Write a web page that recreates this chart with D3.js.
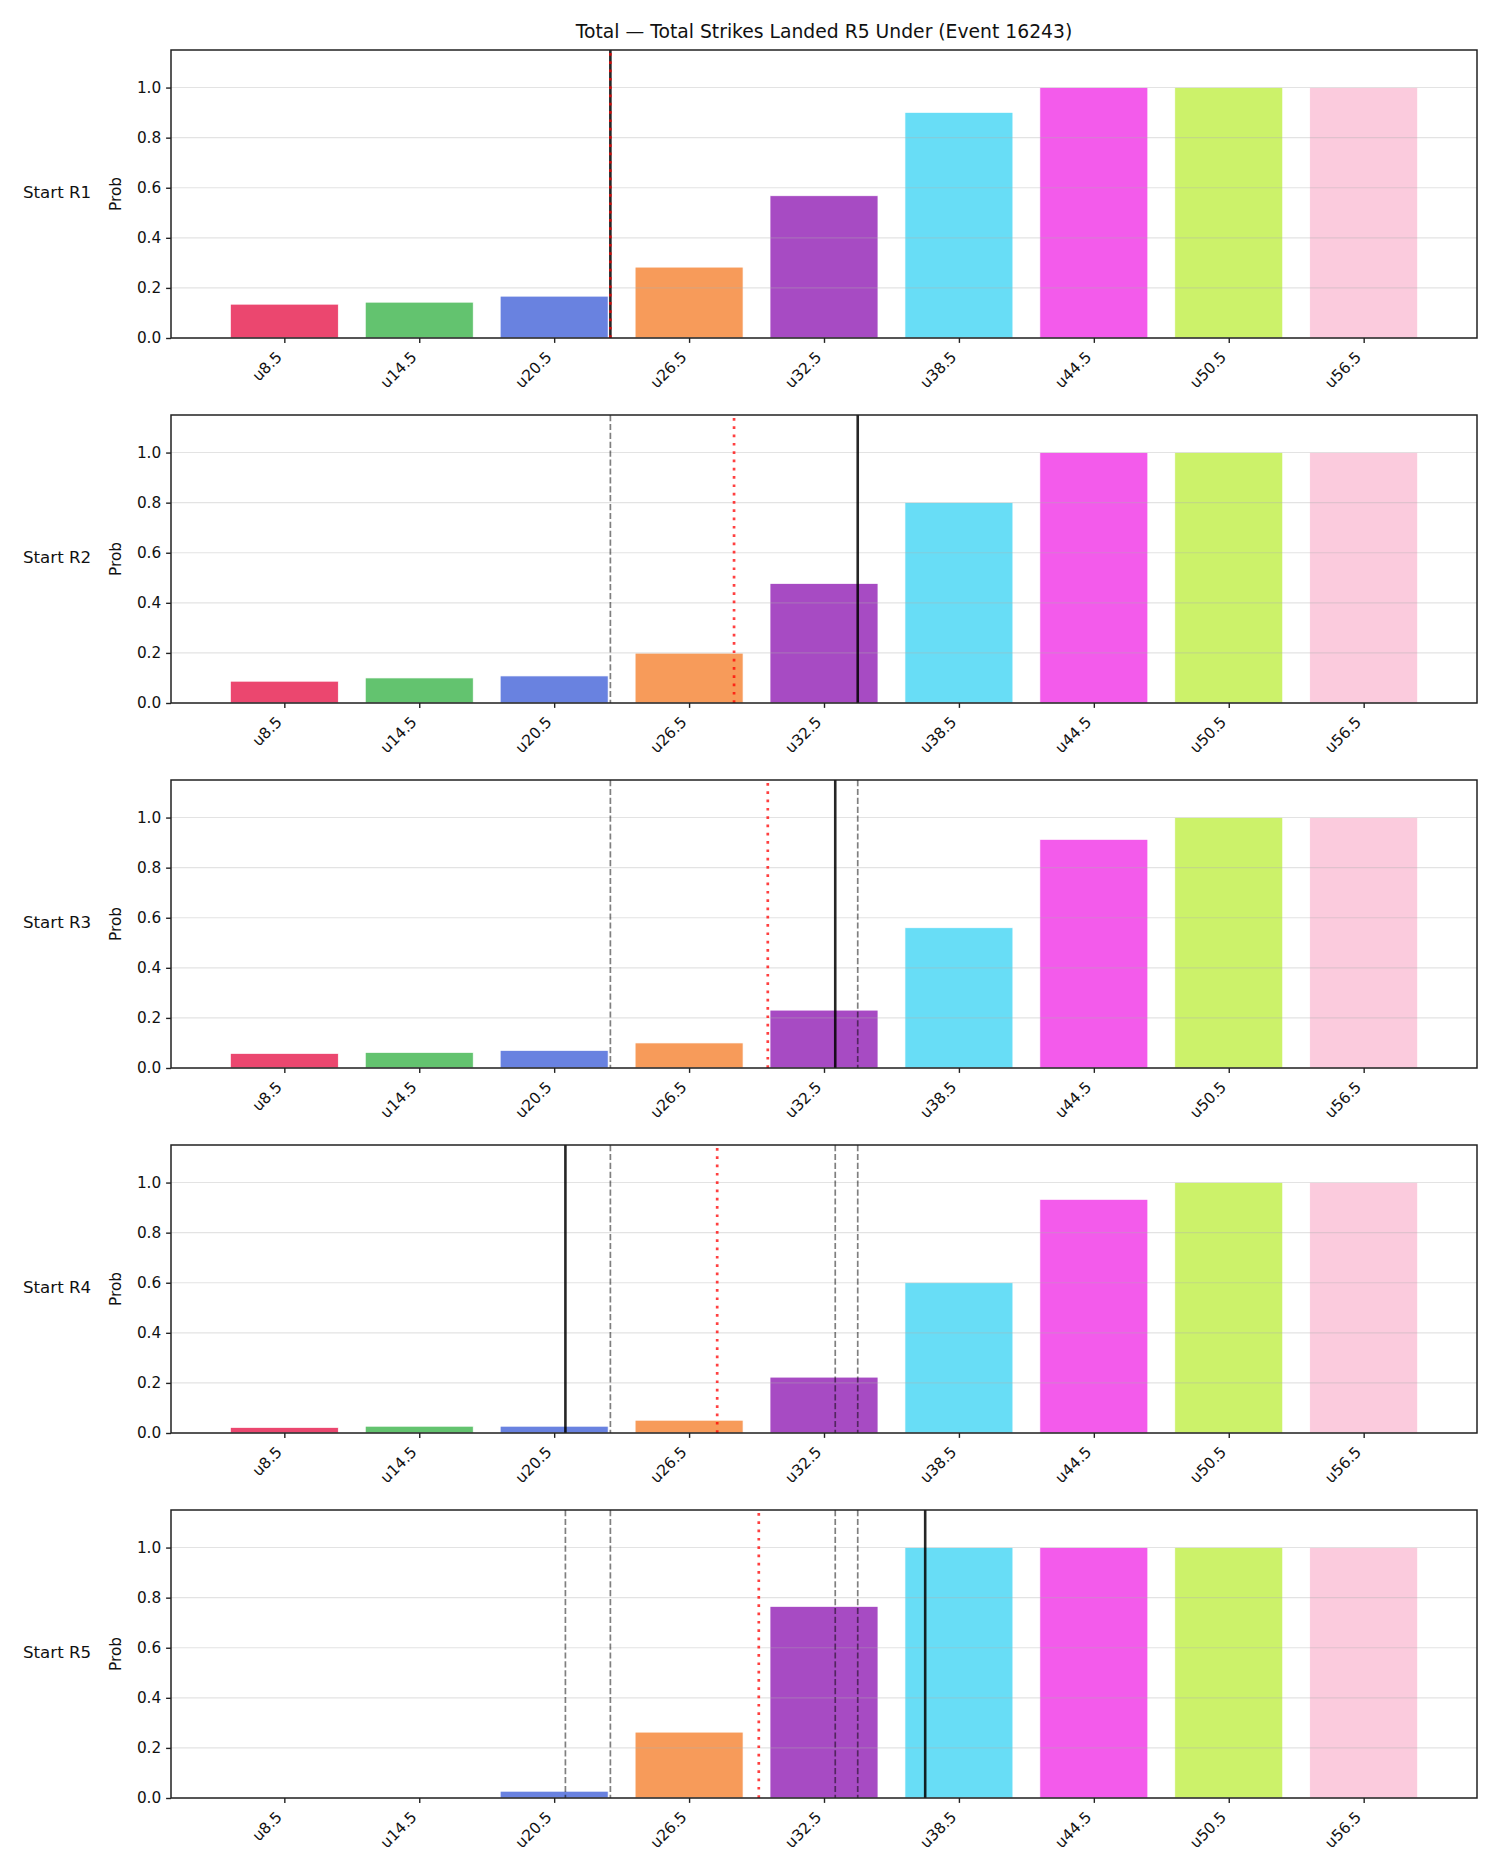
<!DOCTYPE html>
<html>
<head>
<meta charset="utf-8">
<title>Total Strikes Landed R5 Under</title>
<script src="https://cdn.jsdelivr.net/npm/d3@7"></script>
<style>
body { margin: 0; background: #fff; }
text { font-family: "DejaVu Sans", sans-serif; fill: #111; }
</style>
</head>
<body>
<script>
// under-lines shown on the x axis
var categories = ["u8.5", "u14.5", "u20.5", "u26.5", "u32.5", "u38.5", "u44.5", "u50.5", "u56.5"];
var lineValues = [8.5, 14.5, 20.5, 26.5, 32.5, 38.5, 44.5, 50.5, 56.5];
var rowLabels = ["Start R1", "Start R2", "Start R3", "Start R4", "Start R5"];

// probability of "under" per line, one array per starting round
var probR1 = [0.135, 0.143, 0.167, 0.283, 0.568, 0.901, 1.0, 1.0, 1.0];
var probR2 = [0.087, 0.100, 0.108, 0.199, 0.477, 0.800, 1.0, 1.0, 1.0];
var probR3 = [0.058, 0.062, 0.070, 0.100, 0.231, 0.560, 0.913, 1.0, 1.0];
var probR4 = [0.022, 0.027, 0.027, 0.051, 0.223, 0.600, 0.933, 1.0, 1.0];
var probR5 = [0.000, 0.002, 0.027, 0.263, 0.765, 1.0, 1.0, 1.0, 1.0];

// strikes landed in each round (solid = this round, dashed = earlier ones)
var roundStrikes = [23, 34, 33, 21, 37];
// running average so far (red dotted)
var runningAvg = [23, 28.5, 30, 27.75, 29.6];

var yTicks = [0, 0.2, 0.4, 0.6, 0.8, 1.0];
var barColors = ["#e6194B", "#3cb44b", "#4363d8", "#f58231", "#911eb4",
                 "#42d4f4", "#f032e6", "#bfef45", "#fabed4"];

var panels = [probR1, probR2, probR3, probR4, probR5];

var w = 1500, h = 1875;
var left = 171, right = 1477, top0 = 50, panelH = 288, step = 365;

var svg = d3.select("body").append("svg")
    .attr("width", w)
    .attr("height", h);

svg.append("text")
    .attr("x", (left + right) / 2)
    .attr("y", 38)
    .attr("text-anchor", "middle")
    .style("font-size", "18.75px")
    .text("Total \u2014 Total Strikes Landed R5 Under (Event 16243)");

var x = d3.scaleLinear().domain([-0.84, 8.84]).range([left, right]);
// strike counts map onto the bar positions
var xs = d3.scaleLinear().domain([lineValues[0], lineValues[8]]).range([x(0), x(8)]);

panels.forEach(function(probs, r) {
  var top = top0 + r * step;
  var y = d3.scaleLinear().domain([0, 1.15]).range([top + panelH, top]);
  var g = svg.append("g");

  // bars
  g.selectAll("rect.bar")
    .data(probs)
    .enter()
    .append("rect")
    .attr("class", "bar")
    .attr("x", function(d, i) { return x(i - 0.4); })
    .attr("width", x(0.8) - x(0))
    .attr("y", function(d) { return y(d); })
    .attr("height", function(d) { return y(0) - y(d); })
    .attr("fill", function(d, i) { return barColors[i]; })
    .attr("fill-opacity", 0.8)
    .attr("stroke", "#fff")
    .attr("stroke-width", 0.7);

  // grid
  g.selectAll("line.grid")
    .data(yTicks)
    .enter()
    .append("line")
    .attr("x1", left).attr("x2", right)
    .attr("y1", function(d) { return y(d); })
    .attr("y2", function(d) { return y(d); })
    .attr("stroke", "#b0b0b0")
    .attr("stroke-opacity", 0.35)
    .attr("stroke-width", 1.1);

  // earlier rounds, dashed
  g.selectAll("line.prev")
    .data(roundStrikes.slice(0, r))
    .enter()
    .append("line")
    .attr("x1", function(d) { return xs(d); })
    .attr("x2", function(d) { return xs(d); })
    .attr("y1", top).attr("y2", top + panelH)
    .attr("stroke", "#000")
    .attr("stroke-opacity", 0.5)
    .attr("stroke-width", 1.7)
    .attr("stroke-dasharray", "6.2,2.7");

  // this round, solid
  g.append("line")
    .attr("x1", xs(roundStrikes[r])).attr("x2", xs(roundStrikes[r]))
    .attr("y1", top).attr("y2", top + panelH)
    .attr("stroke", "#000")
    .attr("stroke-opacity", 0.85)
    .attr("stroke-width", 2.6);

  // running average, dotted
  g.append("line")
    .attr("x1", xs(runningAvg[r])).attr("x2", xs(runningAvg[r]))
    .attr("y1", top + 3).attr("y2", top + panelH)
    .attr("stroke", "red")
    .attr("stroke-opacity", 0.75)
    .attr("stroke-width", 2.7)
    .attr("stroke-dasharray", "2.7,5.6");

  // axes
  var yAxis = g.append("g")
    .attr("transform", "translate(" + left + ",0)")
    .call(d3.axisLeft(y).tickValues(yTicks).tickFormat(d3.format(".1f"))
          .tickSize(4.9).tickPadding(4.9).tickSizeOuter(0));
  yAxis.select(".domain").remove();
  yAxis.selectAll("line").attr("stroke", "#222").attr("stroke-width", 1.4);
  yAxis.selectAll("text").style("font-size", "15.3px").attr("fill", "#111");

  var xAxis = g.append("g")
    .attr("transform", "translate(0," + (top + panelH) + ")")
    .call(d3.axisBottom(x).tickValues(d3.range(categories.length))
          .tickFormat(function(i) { return categories[i]; })
          .tickSize(4.9).tickSizeOuter(0));
  xAxis.select(".domain").remove();
  xAxis.selectAll("line").attr("stroke", "#222").attr("stroke-width", 1.4);
  xAxis.selectAll("text")
    .style("font-size", "15.3px")
    .attr("fill", "#111")
    .attr("text-anchor", "end")
    .attr("dy", null)
    .attr("y", null)
    .attr("transform", "translate(-2,20) rotate(-45)");

  // frame
  g.append("rect")
    .attr("x", left).attr("y", top)
    .attr("width", right - left).attr("height", panelH)
    .attr("fill", "none")
    .attr("stroke", "#222")
    .attr("stroke-width", 1.5);

  g.append("text")
    .attr("transform", "translate(121," + (top + panelH / 2) + ") rotate(-90)")
    .attr("text-anchor", "middle")
    .style("font-size", "15.3px")
    .text("Prob");

  g.append("text")
    .attr("x", 23)
    .attr("y", top + panelH / 2 + 4)
    .style("font-size", "16.67px")
    .text(rowLabels[r]);
});
</script>
</body>
</html>
